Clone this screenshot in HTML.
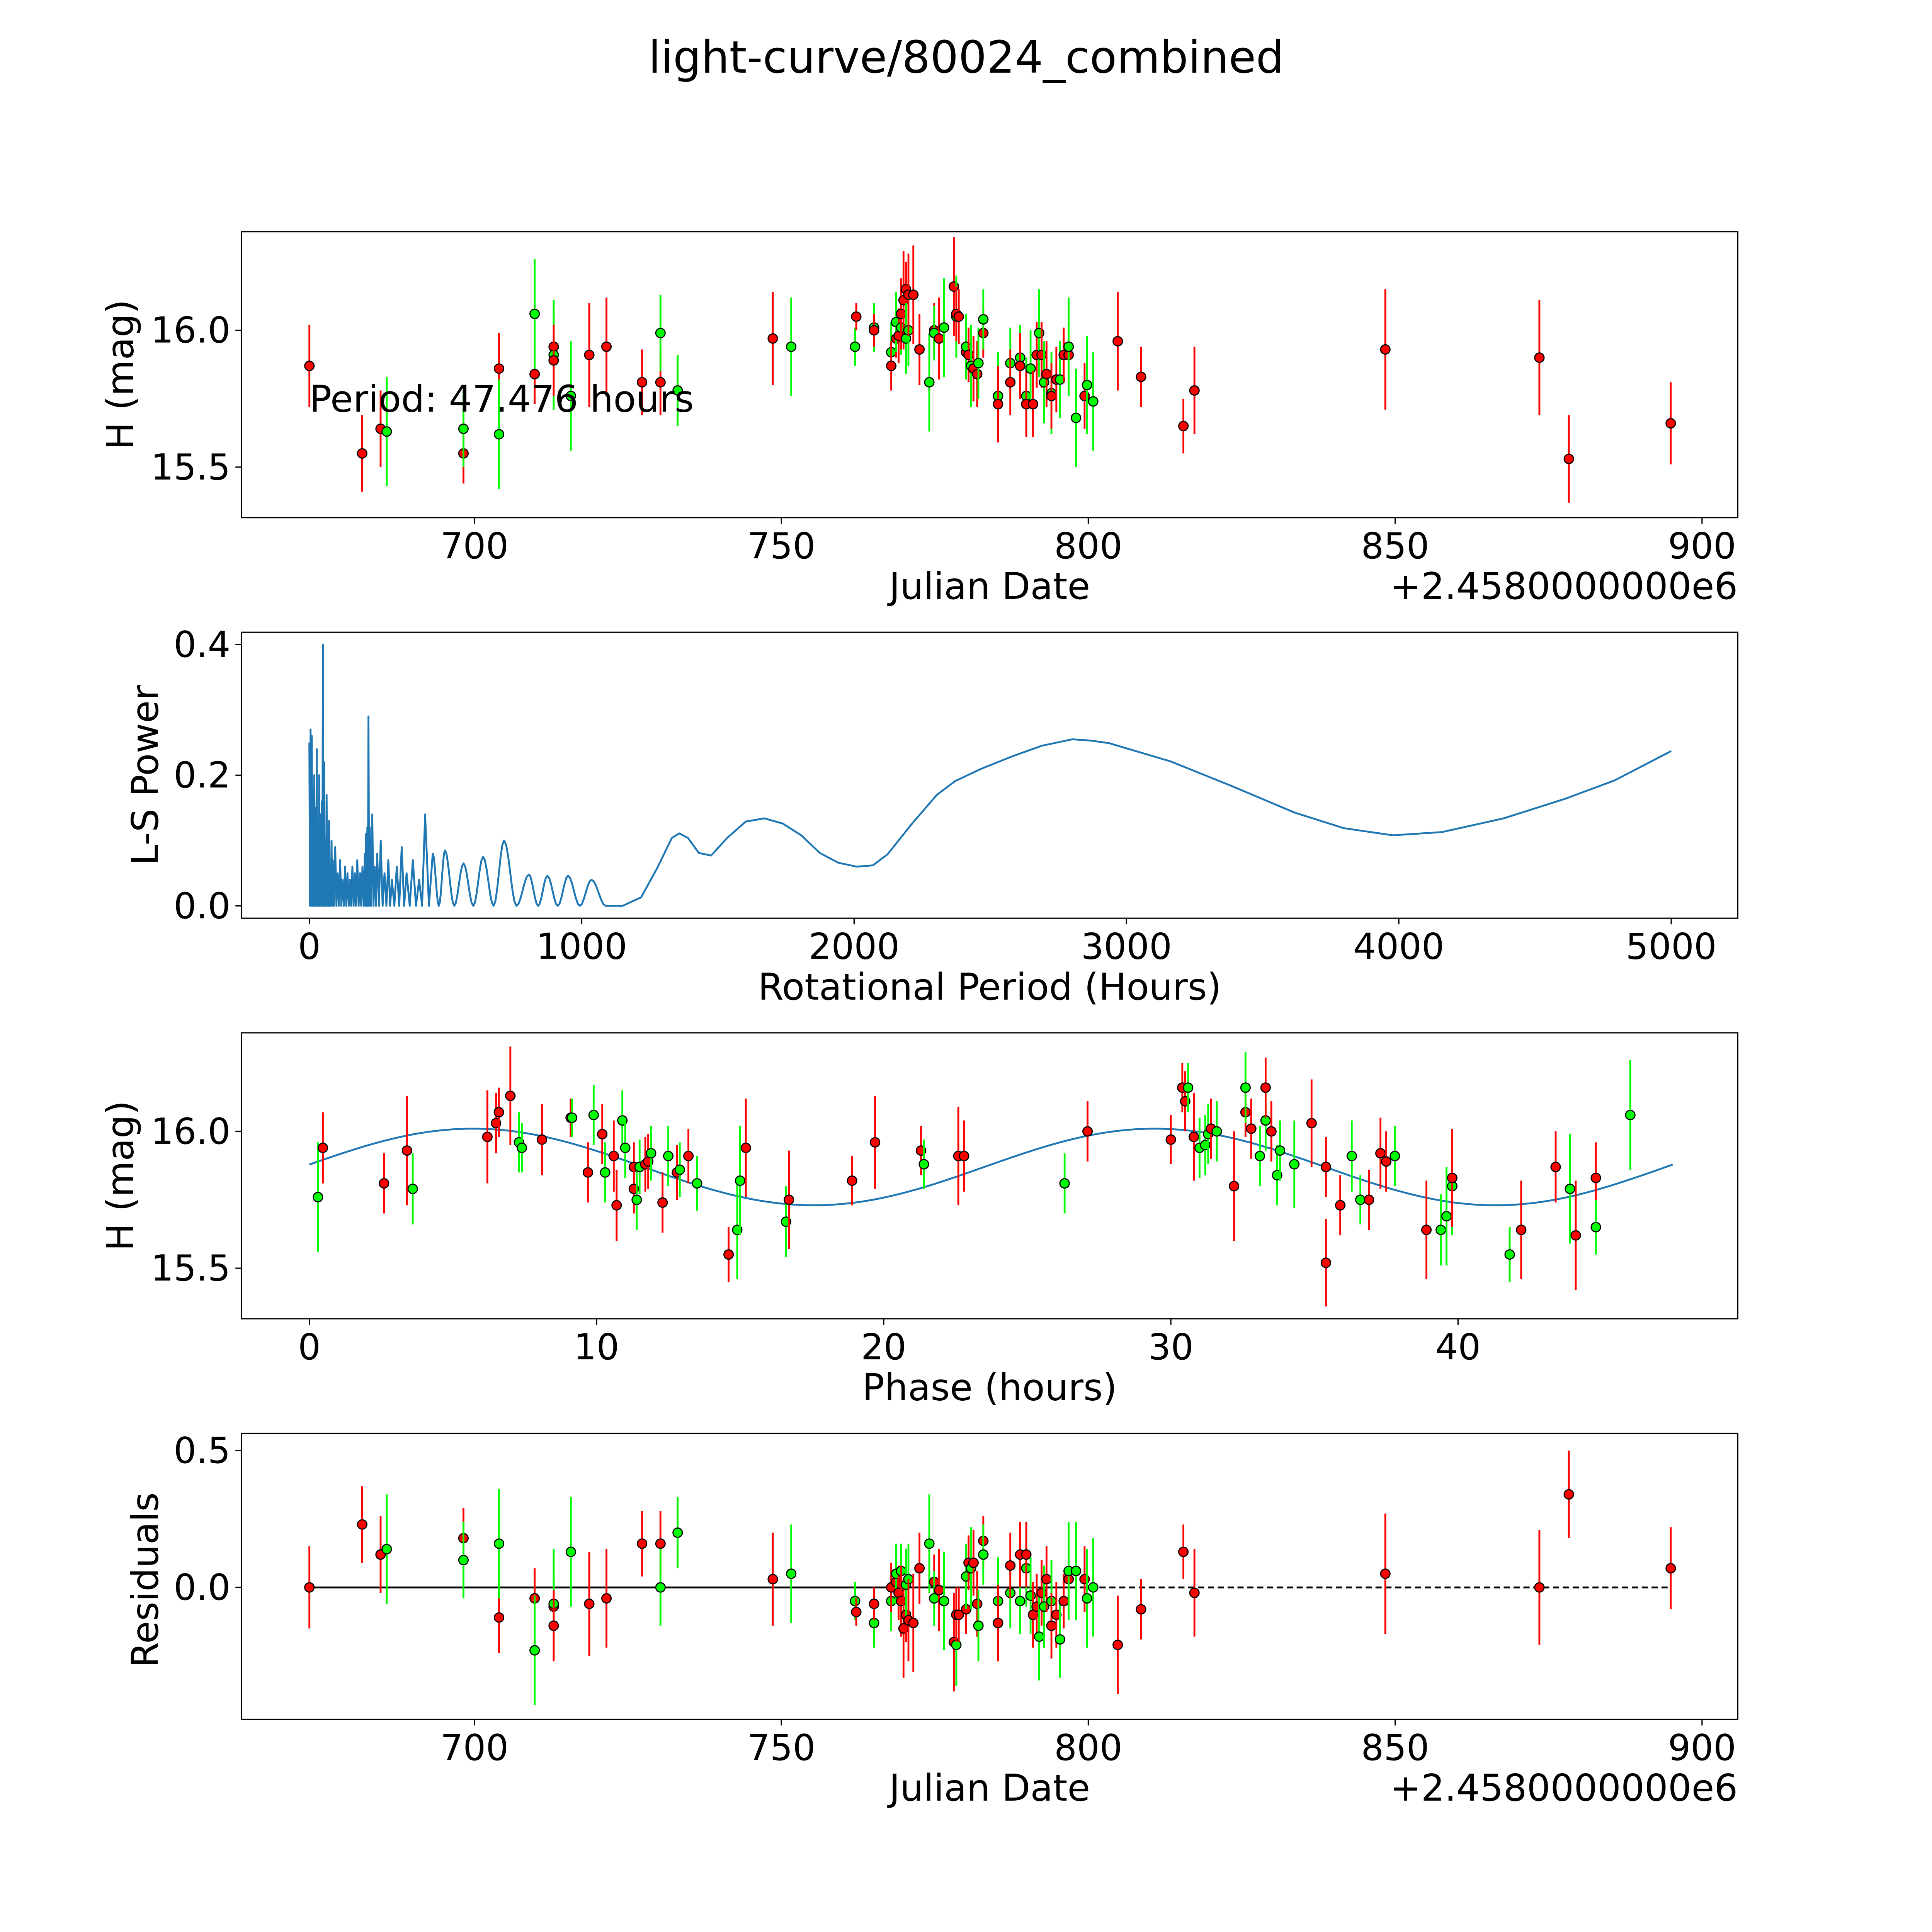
<!DOCTYPE html>
<html><head><meta charset="utf-8"><style>
html,body{margin:0;padding:0;background:#fff;overflow:hidden;width:5400px;height:5400px}
svg{display:block}
text{font-family:"DejaVu Sans","Liberation Sans",sans-serif;fill:#000}
</style></head><body>
<svg id="fig" xmlns="http://www.w3.org/2000/svg" width="5400" height="5400" viewBox="0 0 1693 1693">
<rect width="1693" height="1693" fill="#fff"/>
<text x="784" y="59" font-size="36" text-anchor="middle">light-curve/80024_combined</text>
<g id="p1"></g>
<g id="p2"></g>
<g id="p3"></g>
<g id="p4"></g>
</svg>
<script>
// ---- light curve data ----
const dates=[673.1,681.7,684.7,685.7,698.2,698.2,704.0,704.0,709.8,709.8,712.9,712.9,712.9,715.7,718.7,721.5,727.3,730.3,730.3,733.1,748.6,751.6,762.0,762.2,765.1,765.1,767.9,767.9,768.7,768.7,769.1,769.5,769.5,769.9,770.3,770.3,770.7,770.7,771.5,772.5,774.1,774.9,774.9,775.7,776.5,778.1,778.5,778.5,778.9,780.1,780.1,780.5,780.9,781.3,781.9,782.1,782.9,782.9,785.3,785.3,787.3,787.3,788.9,788.9,789.9,789.9,790.6,791.0,791.6,792.0,792.4,792.8,793.2,794.0,794.0,794.8,795.4,796.0,796.8,796.8,798.0,799.4,799.8,800.8,804.8,808.6,815.5,817.3,848.4,873.5,878.3,894.9];
const mags=[15.87,15.55,15.64,15.63,15.55,15.64,15.86,15.62,15.84,16.06,15.94,15.91,15.89,15.76,15.91,15.94,15.81,15.81,15.99,15.78,15.97,15.94,15.94,16.05,16.01,16.00,15.92,15.87,15.97,16.03,15.98,16.01,16.06,16.11,16.15,15.97,16.00,16.13,16.13,15.93,15.81,16.00,15.99,15.97,16.01,16.16,16.05,16.06,16.05,15.92,15.94,15.91,15.87,15.86,15.84,15.88,15.99,16.04,15.76,15.73,15.88,15.81,15.90,15.87,15.76,15.73,15.86,15.73,15.91,15.99,15.91,15.81,15.84,15.77,15.76,15.82,15.82,15.91,15.91,15.94,15.68,15.76,15.80,15.74,15.96,15.83,15.65,15.78,15.93,15.90,15.53,15.66];
const errs=[0.15,0.14,0.14,0.20,0.11,0.14,0.13,0.20,0.11,0.20,0.13,0.20,0.13,0.20,0.19,0.18,0.12,0.12,0.14,0.13,0.17,0.18,0.07,0.05,0.09,0.06,0.11,0.09,0.07,0.11,0.10,0.10,0.13,0.18,0.10,0.13,0.13,0.15,0.18,0.13,0.18,0.10,0.10,0.15,0.18,0.18,0.15,0.10,0.10,0.09,0.12,0.10,0.15,0.12,0.12,0.13,0.09,0.11,0.16,0.14,0.13,0.12,0.12,0.12,0.14,0.12,0.14,0.12,0.12,0.16,0.12,0.15,0.12,0.15,0.12,0.12,0.14,0.10,0.12,0.18,0.18,0.12,0.18,0.18,0.18,0.11,0.10,0.16,0.22,0.21,0.16,0.15];
const bands="RRRGRGRGRGRGRGRRRRGGRGGRGRGRRGRGRRRGGRRRGRGRGRGRRRGRGRRGRGGRGRGRGRGRRGRGRGRRGRRGGRGGRRRRRRRR".split("");
const resid=[0.00,0.23,0.12,0.14,0.18,0.10,-0.11,0.16,-0.04,-0.23,-0.07,-0.06,-0.14,0.13,-0.06,-0.04,0.16,0.16,0.00,0.20,0.03,0.05,-0.05,-0.09,-0.13,-0.06,-0.05,0.00,0.02,0.05,-0.02,0.06,-0.05,-0.15,-0.10,0.01,0.03,-0.12,-0.13,0.07,0.16,0.02,-0.04,-0.01,-0.05,-0.20,-0.21,-0.10,-0.10,-0.08,0.04,0.09,0.07,0.09,-0.06,-0.14,0.17,0.12,-0.05,-0.13,-0.02,0.08,-0.05,0.12,0.07,0.12,-0.03,-0.10,-0.07,-0.18,-0.02,-0.07,0.03,-0.05,-0.14,-0.10,-0.19,-0.05,0.03,0.06,0.06,0.03,-0.04,0.00,-0.21,-0.08,0.13,-0.02,0.05,0.00,0.34,0.07];
// ---- phase plot data ----
const phases=[0.3,0.47,2.6,3.4,3.6,6.2,6.5,6.6,7.0,7.3,7.4,8.1,9.1,9.15,9.7,9.9,10.2,10.3,10.6,10.7,10.9,11.0,11.3,11.3,11.4,11.5,11.7,11.8,11.9,12.5,12.3,12.8,12.9,13.2,13.5,14.6,14.9,15.0,15.2,16.6,16.7,18.9,19.7,21.3,21.4,22.6,22.8,26.3,27.1,30.0,30.4,30.5,30.6,30.8,31.0,31.2,31.3,31.4,31.6,32.2,32.6,32.6,32.8,33.1,33.3,33.3,33.5,33.7,33.8,34.3,34.9,35.4,35.4,35.9,36.3,36.6,36.9,37.3,37.5,37.8,38.9,39.4,39.6,39.8,39.8,41.8,42.2,43.4,43.9,44.1,44.8,44.8,46.0];
const phMags=[15.76,15.94,15.81,15.93,15.79,15.98,16.03,16.07,16.13,15.96,15.94,15.97,16.05,16.05,15.85,16.06,15.99,15.85,15.91,15.73,16.04,15.94,15.87,15.79,15.75,15.87,15.88,15.89,15.92,15.91,15.74,15.85,15.86,15.91,15.81,15.55,15.64,15.82,15.94,15.67,15.75,15.82,15.96,15.93,15.88,15.91,15.91,15.81,16.00,15.97,16.16,16.11,16.16,15.98,15.94,15.95,15.99,16.01,16.00,15.80,16.07,16.16,16.01,15.91,16.04,16.16,16.00,15.84,15.93,15.88,16.03,15.87,15.52,15.73,15.91,15.75,15.75,15.92,15.89,15.91,15.64,15.64,15.69,15.80,15.83,15.55,15.64,15.87,15.79,15.62,15.83,15.65,16.06];
const phErrs=[0.2,0.13,0.11,0.2,0.13,0.17,0.11,0.09,0.18,0.11,0.09,0.13,0.07,0.07,0.11,0.11,0.11,0.11,0.13,0.13,0.11,0.11,0.09,0.09,0.11,0.1,0.1,0.1,0.1,0.11,0.11,0.1,0.1,0.1,0.1,0.1,0.18,0.2,0.18,0.13,0.18,0.09,0.17,0.09,0.09,0.18,0.13,0.11,0.11,0.09,0.09,0.11,0.09,0.16,0.11,0.11,0.11,0.11,0.11,0.2,0.09,0.13,0.11,0.11,0.11,0.11,0.11,0.11,0.11,0.16,0.16,0.11,0.16,0.11,0.13,0.09,0.11,0.13,0.11,0.11,0.18,0.13,0.18,0.18,0.18,0.1,0.18,0.13,0.2,0.2,0.13,0.1,0.2];
const phBands="GRRRGRRRRGGRRGRGRGRRGGRRGGRRGGRRGRGRGGRGRRRRGRRGRRRRGRGGGRGRRGRGGRRGGGRRRRGGRRRGRGGGRGRRGRRG".split("");
const modelMean=15.87, modelAmp=0.14, modelPeak=5.7, periodH=47.476;
// ---- periodogram data ----
const spikeP=[0,4.5,9,13.6,18.1,22.6,27.2,31.7,36.2,40.7,45.3,49.8,54.3,58.8,63.4,67.9,72.4,76.9,81.5,86,95,104,113,122,131,140,149,158,167,176,186,195,204,208,213,217,222,231,240,249,262,276,290,303,321,339,357,380,403,425,453,498,566,638,715,806,874,950,1036,1140];
const spikePow=[0.25,0.27,0.26,0.18,0.2,0.15,0.24,0.12,0.2,0.14,0.16,0.40,0.22,0.1,0.17,0.08,0.13,0.06,0.1,0.07,0.09,0.05,0.07,0.04,0.06,0.05,0.04,0.06,0.05,0.07,0.05,0.06,0.08,0.11,0.12,0.29,0.12,0.14,0.06,0.08,0.1,0.05,0.07,0.04,0.06,0.09,0.05,0.07,0.04,0.14,0.08,0.085,0.065,0.075,0.10,0.048,0.046,0.046,0.04,0.0];
const smoothP=[1150,1218,1276,1331,1358,1390,1430,1475,1534,1602,1670,1738,1806,1874,1942,2010,2069,2123,2213,2304,2371,2462,2575,2688,2801,2869,2937,3163,3389,3616,3797,3978,4159,4385,4611,4792,5000];
const smoothPow=[0.0,0.013,0.057,0.104,0.111,0.104,0.081,0.077,0.104,0.129,0.134,0.126,0.108,0.081,0.066,0.060,0.062,0.079,0.126,0.170,0.191,0.209,0.228,0.245,0.255,0.253,0.249,0.221,0.183,0.143,0.119,0.108,0.113,0.134,0.164,0.192,0.237];

const NS="http://www.w3.org/2000/svg";
function mk(parent,tag,attrs){const e=document.createElementNS(NS,tag);for(const k in attrs)e.setAttribute(k,attrs[k]);parent.appendChild(e);return e;}
const RED="#ff0000", GRN="#00ff00";
const TFS=29, LFS=30;
function frame(g,x0,y0,x1,y1){
  const r=mk(g,'rect',{x:x0,y:y0,width:x1-x0,height:y1-y0,fill:'none',stroke:'#000','stroke-width':1});
  
  
}
function xticks(g,vals,fx,yb,fmt){
  vals.forEach(v=>{const x=fx(v);
    const t=mk(g,'line',{x1:x,x2:x,y1:yb,y2:yb+5,stroke:'#000','stroke-width':1});
    
    
    const l=mk(g,'text',{x:x,y:yb+33,'font-size':TFS,'text-anchor':'middle'});l.textContent=fmt(v);
    
    
  });
}
function yticks(g,vals,fy,xl,fmt){
  vals.forEach(v=>{const y=fy(v);
    const t=mk(g,'line',{x1:xl-5,x2:xl,y1:y,y2:y,stroke:'#000','stroke-width':1});
    
    
    const l=mk(g,'text',{x:xl-9,y:y+10,'font-size':TFS,'text-anchor':'end'});l.textContent=fmt(v);
    
    
  });
}
function label(g,txt,x,y,rot,name,anchor){
  const l=mk(g,'text',{x:x,y:y,'font-size':LFS,'text-anchor':anchor||'middle'});
  if(rot)l.setAttribute('transform','rotate(-90 '+x+' '+y+')');
  l.textContent=txt;
  
  
}
function point(g,x,y,ey0,ey1,col){
  const e=mk(g,'line',{x1:x,x2:x,y1:ey0,y2:ey1,stroke:col,'stroke-width':1.5});
  
  
  const c=mk(g,'circle',{cx:x,cy:y,r:3.8,fill:col,stroke:'#000','stroke-width':0.9});
  
  
}
const fxDate=d=>385+(d-700)*4.98;
const f1=v=>v.toFixed(1);
// Panel 1
(function(){const g=document.getElementById('p1');
  const fy=m=>268-(m-16)*222;
  frame(g,196,188,1410,420);
  dates.forEach((d,i)=>point(g,fxDate(d),fy(mags[i]),fy(mags[i]+errs[i]),fy(mags[i]-errs[i]),bands[i]==='R'?RED:GRN));
  xticks(g,[700,750,800,850,900],fxDate,420,v=>String(v));
  yticks(g,[15.5,16.0],fy,196,f1);
  label(g,'Julian Date',803,486,false,'x-axis-title');
  label(g,'+2.4580000000e6',1410,486,false,'x-offset-label','end');
  label(g,'H (mag)',108,304,true,'y-axis-title');
  const p=mk(g,'text',{x:251,y:334,'font-size':LFS});p.textContent='Period: 47.476 hours';
  
  
})();
// Panel 2
(function(){const g=document.getElementById('p2');
  const fx=p=>251+p*1105/5000, fy=v=>735-v*530;
  frame(g,196,513,1410,745);
  let d='M'+fx(spikeP[0]).toFixed(2)+','+fy(spikePow[0]).toFixed(2);
  for(let i=1;i<spikeP.length;i++){
    const a=spikeP[i-1], b=spikeP[i], mid=(a+b)/2, pa=spikePow[i-1], pb=spikePow[i];
    const n=(b-a)>40?6:1;
    for(let k=1;k<=n;k++){const t=k/n;const p=a+(mid-a)*t;const v=pa*(1+Math.cos(Math.PI*t))/2;d+=' L'+fx(p).toFixed(2)+','+fy(v).toFixed(2);}
    for(let k=1;k<=n;k++){const t=k/n;const p=mid+(b-mid)*t;const v=pb*(1-Math.cos(Math.PI*t))/2;d+=' L'+fx(p).toFixed(2)+','+fy(v).toFixed(2);}
  }
  smoothP.forEach((p,i)=>{d+=' L'+fx(p).toFixed(2)+','+fy(smoothPow[i]).toFixed(2);});
  const pl=mk(g,'path',{d:d,fill:'none',stroke:'#1f77b4','stroke-width':1.5,'stroke-linejoin':'round'});
  
  
  xticks(g,[0,1000,2000,3000,4000,5000],fx,745,v=>String(v));
  yticks(g,[0,0.2,0.4],fy,196,f1);
  label(g,'Rotational Period (Hours)',803,811,false,'x-axis-title');
  label(g,'L-S Power',128,629,true,'y-axis-title');
})();
// Panel 3
(function(){const g=document.getElementById('p3');
  const fx=p=>251+p*23.3, fy=m=>918-(m-16)*222;
  frame(g,196,838,1410,1070);
  let d='';
  for(let i=0;i<=200;i++){const ph=periodH*i/200;
    const m=modelMean+modelAmp*Math.cos(2*Math.PI*(ph-modelPeak)/(periodH/2));
    d+=(i?' L':'M')+fx(ph).toFixed(2)+','+fy(m).toFixed(2);}
  const pl=mk(g,'path',{d:d,fill:'none',stroke:'#1f77b4','stroke-width':1.5});
  
  
  phases.forEach((p,i)=>point(g,fx(p),fy(phMags[i]),fy(phMags[i]+phErrs[i]),fy(phMags[i]-phErrs[i]),phBands[i]==='R'?RED:GRN));
  xticks(g,[0,10,20,30,40],fx,1070,v=>String(v));
  yticks(g,[15.5,16.0],fy,196,f1);
  label(g,'Phase (hours)',803,1136,false,'x-axis-title');
  label(g,'H (mag)',108,954,true,'y-axis-title');
})();
// Panel 4
(function(){const g=document.getElementById('p4');
  const fy=r=>1288-r*222;
  frame(g,196,1163,1410,1395);
  const l1=mk(g,'line',{x1:fxDate(673.1),x2:fxDate(797),y1:fy(0),y2:fy(0),stroke:'#000','stroke-width':1.5});
  
  
  const l2=mk(g,'line',{x1:fxDate(797),x2:fxDate(894.9),y1:fy(0),y2:fy(0),stroke:'#000','stroke-width':1.5,'stroke-dasharray':'5,3'});
  
  
  dates.forEach((d,i)=>point(g,fxDate(d),fy(resid[i]),fy(resid[i]+errs[i]),fy(resid[i]-errs[i]),bands[i]==='R'?RED:GRN));
  xticks(g,[700,750,800,850,900],fxDate,1395,v=>String(v));
  yticks(g,[0,0.5],fy,196,f1);
  label(g,'Julian Date',803,1461,false,'x-axis-title');
  label(g,'+2.4580000000e6',1410,1461,false,'x-offset-label','end');
  label(g,'Residuals',128,1282,true,'y-axis-title');
})();
</script>
</body></html>
